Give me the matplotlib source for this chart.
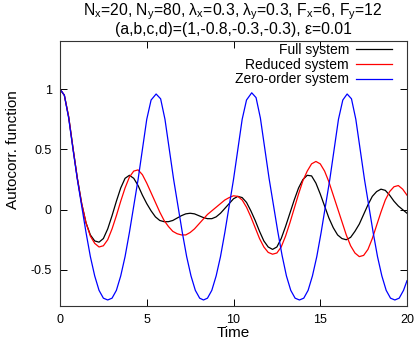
import matplotlib
matplotlib.use("Agg")
import matplotlib.pyplot as plt

plt.rcParams['font.family'] = ['Liberation Sans', 'DejaVu Sans']
plt.rcParams['mathtext.fontset'] = 'custom'
plt.rcParams['mathtext.rm'] = 'Liberation Sans'
plt.rcParams['mathtext.it'] = 'Liberation Sans'

title_text = ("N$_\\mathrm{x}$=20, N$_\\mathrm{y}$=80, λ$_\\mathrm{x}$=0.3, λ$_\\mathrm{y}$=0.3, "
              "F$_\\mathrm{x}$=6, F$_\\mathrm{y}$=12\n(a,b,c,d)=(1,-0.8,-0.3,-0.3), ε=0.01")
series_labels = ["Full system", "Reduced system", "Zero-order system"]
x_ticks = [0, 5, 10, 15, 20]
y_ticks = [-0.5, 0, 0.5, 1]
y_tick_labels = ["-0.5", "0", "0.5", "1"]

t_grid = [0, 0.25, 0.5, 0.75, 1.0, 1.25, 1.5, 1.75, 2.0, 2.25, 2.5, 2.75, 3.0, 3.25, 3.5, 3.75,
          4.0, 4.25, 4.5, 4.75, 5.0, 5.25, 5.5, 5.75, 6.0, 6.25, 6.5, 6.75, 7.0, 7.25, 7.5, 7.75,
          8.0, 8.25, 8.5, 8.75, 9.0, 9.25, 9.5, 9.75, 10.0, 10.25, 10.5, 10.75, 11.0, 11.25, 11.5,
          11.75, 12.0, 12.25, 12.5, 12.75, 13.0, 13.25, 13.5, 13.75, 14.0, 14.25, 14.5, 14.75, 15.0,
          15.25, 15.5, 15.75, 16.0, 16.25, 16.5, 16.75, 17.0, 17.25, 17.5, 17.75, 18.0, 18.25, 18.5,
          18.75, 19.0, 19.25, 19.5, 19.75, 20.0]

full_vals = [1.0, 0.95, 0.77, 0.51, 0.26, 0.05, -0.11, -0.21, -0.26, -0.27, -0.24, -0.16, -0.05,
             0.07, 0.18, 0.26, 0.285, 0.26, 0.20, 0.12, 0.05, -0.01, -0.06, -0.09, -0.10, -0.10,
             -0.09, -0.07, -0.05, -0.035, -0.03, -0.035, -0.05, -0.065, -0.075, -0.075, -0.06,
             -0.03, 0.01, 0.05, 0.09, 0.11, 0.10, 0.06, -0.01, -0.09, -0.18, -0.26, -0.31, -0.33,
             -0.31, -0.24, -0.14, -0.03, 0.08, 0.18, 0.25, 0.285, 0.28, 0.22, 0.13, 0.03, -0.07,
             -0.15, -0.21, -0.24, -0.25, -0.23, -0.18, -0.12, -0.04, 0.04, 0.11, 0.15, 0.17, 0.16,
             0.12, 0.07, 0.03, 0.0, -0.03]

reduced_vals = [1.0, 0.95, 0.77, 0.51, 0.26, 0.05, -0.11, -0.22, -0.28, -0.31, -0.30, -0.25, -0.16,
                -0.05, 0.07, 0.18, 0.27, 0.32, 0.33, 0.29, 0.22, 0.14, 0.06, -0.02, -0.09, -0.14,
                -0.18, -0.20, -0.21, -0.21, -0.19, -0.16, -0.12, -0.08, -0.04, -0.01, 0.02, 0.05,
                0.08, 0.10, 0.115, 0.11, 0.08, 0.02, -0.06, -0.15, -0.24, -0.31, -0.355, -0.37,
                -0.36, -0.31, -0.22, -0.11, 0.01, 0.13, 0.24, 0.32, 0.38, 0.40, 0.38, 0.32, 0.23,
                0.12, 0.01, -0.10, -0.21, -0.30, -0.36, -0.39, -0.38, -0.33, -0.24, -0.13, -0.02,
                0.08, 0.15, 0.19, 0.20, 0.17, 0.12]

zero_t = [0, 0.25, 0.5, 0.75, 1.0, 1.25, 1.5, 1.75, 2.0, 2.25, 2.5, 2.75,
          3.0, 3.25, 3.5, 3.75, 4.0, 4.25, 4.5, 4.75, 5.0, 5.25, 5.54,
          5.8, 6.05, 6.3, 6.55, 6.8, 7.05, 7.3, 7.55, 7.8, 8.05, 8.27,
          8.5, 8.75, 9.0, 9.25, 9.5, 9.75, 10.0, 10.25, 10.5, 10.75, 11.05,
          11.3, 11.55, 11.8, 12.05, 12.3, 12.55, 12.8, 13.05, 13.3, 13.55, 13.8,
          14.05, 14.3, 14.55, 14.8, 15.05, 15.3, 15.55, 15.8, 16.05, 16.3, 16.55,
          16.8, 17.05, 17.3, 17.55, 17.8, 18.05, 18.3, 18.55, 18.8, 19.05, 19.3,
          19.55, 19.8, 20.0]
zero_vals = [1.0, 0.95, 0.76, 0.50, 0.25, 0.03, -0.19, -0.39, -0.55, -0.67, -0.735, -0.75,
             -0.735, -0.67, -0.55, -0.39, -0.19, 0.03, 0.25, 0.50, 0.75, 0.91, 0.96,
             0.92, 0.75, 0.50, 0.25, 0.03, -0.19, -0.39, -0.55, -0.67, -0.735, -0.75,
             -0.735, -0.67, -0.55, -0.39, -0.19, 0.03, 0.25, 0.50, 0.75, 0.91, 0.97,
             0.93, 0.76, 0.51, 0.26, 0.04, -0.18, -0.38, -0.55, -0.67, -0.735, -0.75,
             -0.735, -0.67, -0.55, -0.39, -0.19, 0.03, 0.25, 0.50, 0.75, 0.91, 0.96,
             0.92, 0.75, 0.50, 0.25, 0.03, -0.19, -0.39, -0.55, -0.67, -0.735, -0.75,
             -0.735, -0.67, -0.59]

fig = plt.figure(figsize=(4.15, 3.43), dpi=100)
ax = fig.add_axes([60/415, 1 - 306/343, 347/415, 265/343])

ax.plot(t_grid, full_vals, color='black', lw=0.9, label=series_labels[0])
ax.plot(t_grid, reduced_vals, color='#ff0000', lw=0.9, label=series_labels[1])
ax.plot(zero_t, zero_vals, color='#0000ff', lw=0.9, label=series_labels[2])

ax.set_xlim(0, 20)
ax.set_ylim(-0.8, 1.4)
ax.set_xticks(x_ticks)
ax.set_xticklabels([str(v) for v in x_ticks])
ax.set_yticks(y_ticks)
ax.set_yticklabels(y_tick_labels)
ax.tick_params(direction='in', length=5, width=0.7, top=True, right=True,
               labelsize=9, colors='black', pad=6)
for s in ax.spines.values():
    s.set_linewidth(0.8)
    s.set_color('#333333')

ax.set_xlabel("Time", fontsize=11)
ax.xaxis.set_label_coords(0.5, -(333 - 306) / 265, transform=ax.transAxes)
ax.xaxis.label.set_va('center')
ax.set_ylabel("Autocorr. function", fontsize=11)
ax.yaxis.set_label_coords(-(60 - 13) / 347, (306 - 150) / 265, transform=ax.transAxes)
ax.yaxis.label.set_va('center')
fig.text(233/415, 1 - 19/343, title_text, ha='center', va='center', fontsize=11.3,
         linespacing=1.0)

leg = ax.legend(loc='upper right', frameon=False, markerfirst=False, fontsize=10,
                handlelength=2.6, labelspacing=0.05, borderaxespad=0.0, handletextpad=0.5,
                borderpad=0.0, bbox_to_anchor=((392 - 60) / 347, (306 - 43) / 265))

fig.savefig("out.png", dpi=100)
